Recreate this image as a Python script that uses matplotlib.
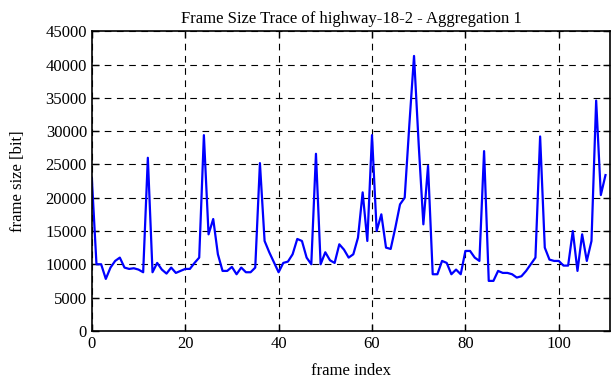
import numpy as np
import matplotlib
matplotlib.use("Agg")
import matplotlib.pyplot as plt

# frame sizes [bit] (frame index 0..110)
frame_size = [
    23000, 10000, 10000, 7800, 9500, 10500, 11000, 9500, 9300, 9400,
    9200, 8800, 26000, 8800, 10200, 9200, 8600, 9500, 8700, 9000,
    9300, 9300, 10200, 11000, 29400, 14500, 16800, 11500, 9000, 9000,
    9600, 8500, 9500, 8800, 8800, 9500, 25200, 13500, 11800, 10300,
    8800, 10200, 10400, 11500, 13800, 13500, 11000, 10000, 26600, 10000,
    11800, 10600, 10200, 13000, 12200, 11000, 11500, 14000, 20800, 13500,
    29400, 15000, 17500, 12500, 12300, 15500, 19000, 20000, 31000, 41300,
    28000, 16000, 24800, 8500, 8500, 10500, 10200, 8500, 9200, 8500,
    12000, 12000, 11000, 10500, 27000, 7500, 7500, 9000, 8700, 8700,
    8500, 8000, 8200, 9000, 10000, 11000, 29200, 12500, 10700, 10500,
    10500, 9800, 9800, 15000, 9000, 14500, 10500, 13500, 34600, 20400,
    23400,
]
frame_index = np.arange(len(frame_size))

x_ticks = [0, 20, 40, 60, 80, 100]
y_ticks = list(range(0, 45001, 5000))

plt.rcParams["font.family"] = ["Liberation Serif", "DejaVu Serif"]
plt.rcParams["font.size"] = 12

fig = plt.figure(figsize=(6.12, 3.82), dpi=100)
ax = fig.add_axes([0.150, 0.134, 0.847, 0.784])

ax.plot(frame_index, frame_size, color="#0000ff", lw=1.6)

ax.set_xlim(0, 111)
ax.set_ylim(0, 45000)
ax.set_xticks(x_ticks)
ax.set_yticks(y_ticks)
ax.grid(True, color="black", linestyle=(0, (6, 5)), linewidth=0.8)
ax.tick_params(direction="in", top=True, right=True, length=5, width=1.0, labelsize=12)
for s in ax.spines.values():
    s.set_linewidth(1.2)

ax.set_xlabel("frame index", labelpad=8)
ax.set_ylabel("frame size [bit]", labelpad=14)
ax.set_title("Frame Size Trace of highway-18-2 - Aggregation 1", fontsize=12, pad=6)

fig.savefig("out.png", dpi=100)
